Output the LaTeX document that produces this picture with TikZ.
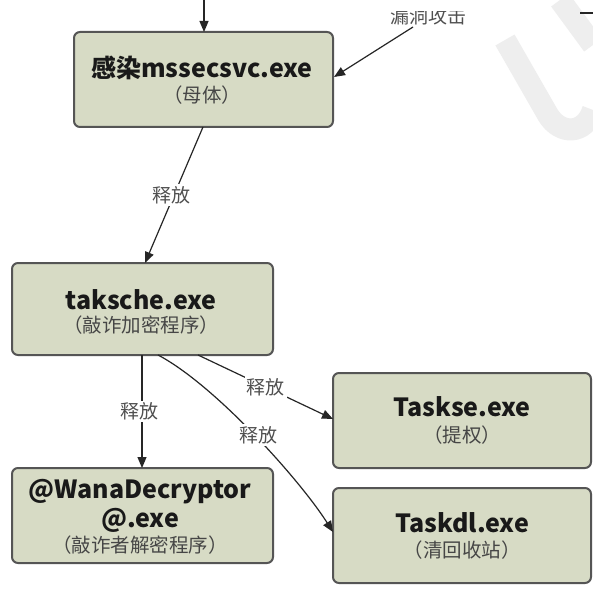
\documentclass[tikz,border=0pt]{standalone}
\usepackage{fontspec}
\setmainfont{Noto Sans CJK SC}
\usetikzlibrary{arrows.meta}
\definecolor{boxfill}{RGB}{215,219,197}
\definecolor{boxline}{RGB}{85,85,85}
\definecolor{subtxt}{RGB}{70,70,70}
\definecolor{lbltxt}{RGB}{80,80,80}
\definecolor{ttltxt}{RGB}{25,25,25}
\definecolor{wmark}{RGB}{238,238,238}
\begin{document}
\begin{tikzpicture}[x=1pt,y=-1pt,
  box/.style={draw=boxline, line width=2pt, fill=boxfill, rounded corners=6pt, inner sep=0pt},
  ttl/.style={inner sep=0pt, text=ttltxt, font=\fontsize{25}{28}\selectfont\bfseries},
  sub/.style={inner sep=0pt, text=subtxt, font=\fontsize{19.5}{22}\selectfont},
  edge/.style={draw=black!85, line width=1.2pt, -{Triangle[length=11pt,width=9pt]}},
  lbl/.style={fill=white, inner sep=2pt, text=lbltxt, font=\fontsize{19}{21}\selectfont}
]
\useasboundingbox (0,0) rectangle (593,593);
\fill[white] (0,0) rectangle (593,593);
% watermark
\draw[wmark, line width=22pt] (505,40) -- (548,115) .. controls (560,135) and (585,135) .. (593,110);
\draw[wmark, line width=22pt] (560,0) -- (593,45);

% boxes
\node[box, minimum width=259pt, minimum height=95pt] (b1) at (203.5,79.5) {};
\node[ttl] (b1t) at (202,68) {感染mssecsvc.exe};
\node[sub] (b1s) at (202,95) {（母体）};

\node[box, minimum width=261pt, minimum height=92pt] (b2) at (142.5,309) {};
\node[ttl] (b2t) at (141,300) {taksche.exe};
\node[sub] (b2s) at (141,325) {（敲诈加密程序）};

\node[box, minimum width=258pt, minimum height=95pt] (b3) at (462,420.5) {};
\node[ttl] (b3t) at (462,407) {Taskse.exe};
\node[sub] (b3s) at (462,435) {（提权）};

\node[box, minimum width=258pt, minimum height=95pt] (b4) at (462,535.5) {};
\node[ttl] (b4t) at (462,523) {Taskdl.exe};
\node[sub] (b4s) at (462,550) {（清回收站）};

\node[box, minimum width=261pt, minimum height=95pt] (b5) at (142.5,515.5) {};
\node[ttl] (b5t) at (140,492) {@WanaDecryptor};
\node[ttl] (b5u) at (140,520) {@.exe};
\node[sub] (b5s) at (140,545) {（敲诈者解密程序）};

% incoming connectors (cut off at top)
\coordinate (top1) at (204,-2);
\coordinate (t1) at (204,32);
\draw[edge] (top1) -- (t1);
\begin{scope}
  \clip (380,12) rectangle (480,30);
  \node[lbl, fill=none, inner sep=0pt] (l0) at (428,16) {漏洞攻击};
\end{scope}
\coordinate (a0) at (413,27);
\coordinate (e1) at (334,77);
\draw[edge] (a0) -- (e1);
\coordinate (rt0) at (580,13);
\coordinate (rt) at (593,13);
\draw[black!85, line width=1.5pt] (rt0) -- (rt);

% releases
\coordinate (s1) at (203,127);
\coordinate (e2) at (145,263);
\draw[edge] (s1) -- node[lbl, pos=0.5, xshift=-3pt] (l1) {释放} (e2);
\coordinate (s2) at (142,355);
\coordinate (e5) at (142,468);
\draw[edge] (s2) -- node[lbl, pos=0.5, xshift=-3pt] (l2) {释放} (e5);
\coordinate (s3) at (198,355);
\coordinate (e3) at (333,419);
\draw[edge] (s3) -- node[lbl, pos=0.5] (l3) {释放} (e3);
\coordinate (s4) at (158,355);
\coordinate (e4) at (333,532);
\draw[edge] (s4) .. controls (215,385) and (300,480) .. node[lbl, pos=0.5, xshift=4pt] (l4) {释放} (e4);
\end{tikzpicture}
\end{document}
